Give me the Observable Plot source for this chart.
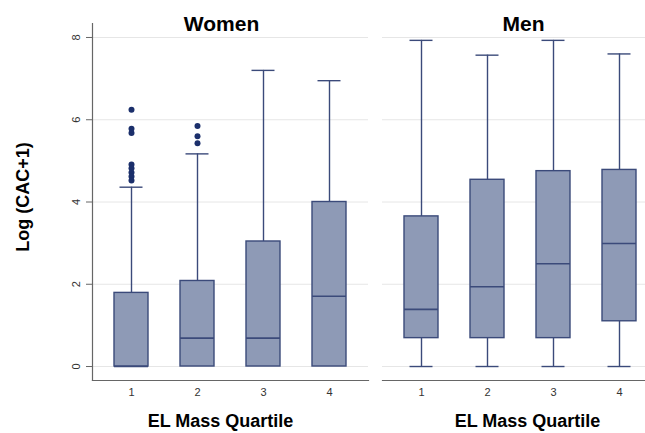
<!DOCTYPE html>
<html><head><meta charset="utf-8">
<script src="https://cdn.jsdelivr.net/npm/d3@7"></script>
<script src="https://cdn.jsdelivr.net/npm/@observablehq/plot@0.6"></script>
<style>html,body{margin:0;padding:0;background:#fff;overflow:hidden;width:645px;height:433px}#chart{width:645px;height:433px;overflow:hidden}</style>
</head><body><div id="chart"></div>
<script>
// ---- data ----
const panels = ["Women", "Men"];
const quartiles = ["1", "2", "3", "4"];
const yTicks = [0, 2, 4, 6, 8];

const womenLow  = [0, 0, 0, 0];
const womenQ1   = [0, 0, 0, 0];
const womenMed  = [0, 0.69, 0.69, 1.71];
const womenQ3   = [1.79, 2.08, 3.04, 4.0];
const womenHigh = [4.36, 5.17, 7.2, 6.95];

const menLow  = [0, 0, 0, 0];
const menQ1   = [0.69, 0.69, 0.69, 1.1];
const menMed  = [1.39, 1.94, 2.5, 2.99];
const menQ3   = [3.65, 4.54, 4.75, 4.78];
const menHigh = [7.93, 7.57, 7.93, 7.6];

const outlierPanel    = ["Women","Women","Women","Women","Women","Women","Women","Women","Women","Women","Women"];
const outlierQuartile = ["1","1","1","1","1","1","1","1","2","2","2"];
const outlierValue    = [6.24, 5.78, 5.68, 4.91, 4.82, 4.72, 4.62, 4.52, 5.85, 5.6, 5.43];

const yTitle = "Log (CAC+1)";
const xTitle = "EL Mass Quartile";

// ---- tables built from the arrays ----
const rows = [];
quartiles.forEach((q, i) => {
  rows.push({panel: "Women", q, low: womenLow[i], q1: womenQ1[i], med: womenMed[i], q3: womenQ3[i], high: womenHigh[i]});
  rows.push({panel: "Men", q, low: menLow[i], q1: menQ1[i], med: menMed[i], q3: menQ3[i], high: menHigh[i]});
});
const outliers = outlierValue.map((v, i) => ({panel: outlierPanel[i], q: outlierQuartile[i], v}));

const FILL = "#8e9ab6", LINE = "#3b4a7a", DOT = "#1b2f6b", AXIS = "#666", GRID = "#e6e6e6";
const FONT = "'Liberation Sans', Arial, Helvetica, sans-serif";

const chart = Plot.plot({
  width: 660, height: 433,
  marginLeft: 92, marginRight: 2, marginTop: 23, marginBottom: 53,
  style: {fontFamily: FONT, background: "#fff"},
  fx: {domain: panels, paddingInner: 14 / 290, paddingOuter: 0, axis: null, label: null},
  x: {domain: quartiles, paddingInner: 0.49, paddingOuter: 0.305, label: null},
  y: {domain: [-0.34, 8.34], label: null},
  marks: [
    Plot.gridY(yTicks, {stroke: GRID, strokeOpacity: 1, strokeWidth: 1}),
    Plot.frame({anchor: "bottom", stroke: AXIS, strokeWidth: 1.2}),
    Plot.frame({anchor: "left", stroke: AXIS, strokeWidth: 1.2, facetAnchor: "left"}),
    Plot.axisY(yTicks, {tickSize: 6, stroke: AXIS, tickFormat: () => "", label: null}),
    Plot.text(yTicks, {fx: () => "Women", y: d => d, text: d => String(d), frameAnchor: "left",
      rotate: -90, dx: -16, fontSize: 11, fill: "#333", textAnchor: "middle", lineAnchor: "middle"}),
    Plot.axisX({tickSize: 0, tickPadding: 8, fontSize: 11, fill: "#333", label: null}),
    // whiskers
    Plot.ruleX(rows, {fx: "panel", x: "q", y1: "q3", y2: "high", stroke: LINE, strokeWidth: 1.4}),
    Plot.ruleX(rows, {fx: "panel", x: "q", y1: "low", y2: "q1", stroke: LINE, strokeWidth: 1.4}),
    Plot.tickY(rows, {fx: "panel", x: "q", y: "high", stroke: LINE, strokeWidth: 1.4, insetLeft: 5.5, insetRight: 5.5}),
    Plot.tickY(rows.filter(d => d.q1 > d.low), {fx: "panel", x: "q", y: "low", stroke: LINE, strokeWidth: 1.4, insetLeft: 5.5, insetRight: 5.5}),
    // boxes
    Plot.barY(rows, {fx: "panel", x: "q", y1: "q1", y2: "q3", fill: FILL, stroke: LINE, strokeWidth: 1.4}),
    Plot.tickY(rows, {fx: "panel", x: "q", y: "med", stroke: LINE, strokeWidth: 1.6}),
    // outliers
    Plot.dot(outliers, {fx: "panel", x: "q", y: "v", r: 3, fill: DOT, stroke: "none"}),
    // panel titles
    Plot.text(["Women"], {fx: d => d, text: d => d, frameAnchor: "top", dy: 1, dx: -9, fontSize: 21, fontWeight: "bold", fill: "#000", lineAnchor: "middle"}),
    Plot.text(["Men"], {fx: d => d, text: d => d, frameAnchor: "top", dy: 1, dx: 3, fontSize: 21, fontWeight: "bold", fill: "#000", lineAnchor: "middle"}),
    // x titles
    Plot.text([xTitle], {fx: () => "Women", text: d => d, frameAnchor: "bottom", dy: 41, dx: -10, fontSize: 18, fontWeight: "bold", fill: "#000", lineAnchor: "middle"}),
    Plot.text([xTitle], {fx: () => "Men", text: d => d, frameAnchor: "bottom", dy: 41, dx: 7, fontSize: 18, fontWeight: "bold", fill: "#000", lineAnchor: "middle"}),
    // y title
    Plot.text([yTitle], {fx: () => "Women", text: d => d, frameAnchor: "left", dx: -69.5, dy: -5, rotate: -90, fontSize: 18, fontWeight: "bold", fill: "#000", lineAnchor: "middle", textAnchor: "middle"})
  ]
});
// The reference crops the right panel at the window edge: show only the first 645px, unscaled.
chart.setAttribute("width", 645);
chart.setAttribute("viewBox", "0 0 645 433");
chart.style.maxWidth = "none";
document.getElementById("chart").appendChild(chart);
</script>
</body></html>
